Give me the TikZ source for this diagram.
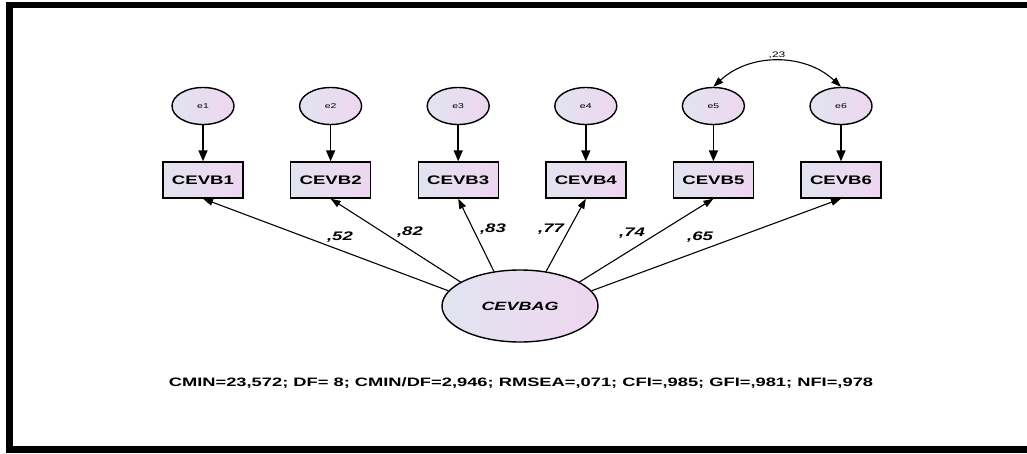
\documentclass[tikz,border=0pt]{standalone}
\usepackage{fontspec}
\newfontfamily\amosfont[FakeStretch=1.5]{Liberation Sans}
\usetikzlibrary{shapes.geometric,arrows.meta,positioning}
\definecolor{fillA}{HTML}{E2E4F0}
\definecolor{fillB}{HTML}{EED6F0}
\tikzset{
  errnode/.style={ellipse,draw,line width=1.4pt,minimum width=62pt,minimum height=37pt,inner sep=0pt,
    left color=fillA,right color=fillB,font=\amosfont\fontsize{7}{8}\selectfont},
  obsbox/.style={rectangle,draw,line width=1.4pt,minimum width=80pt,minimum height=36pt,inner sep=0pt,
    left color=fillA,right color=fillB,font=\amosfont\bfseries\fontsize{12.4}{14}\selectfont},
  latnode/.style={ellipse,draw,line width=1.4pt,minimum width=156pt,minimum height=72pt,inner sep=0pt,
    left color=fillA,right color=fillB,font=\amosfont\bfseries\itshape\fontsize{12}{14}\selectfont},
  coef/.style={font=\amosfont\bfseries\itshape\fontsize{12.4}{14}\selectfont},
  errarrow/.style={line width=1.6pt,-{Triangle[length=11pt,width=9pt]}},
  loadarrow/.style={line width=1.1pt,-{Triangle[length=10pt,width=7pt]}},
  covarrow/.style={line width=1.1pt,{Triangle[length=10pt,width=7pt]}-{Triangle[length=10pt,width=7pt]}}
}
\begin{document}
\begin{tikzpicture}[x=1pt,y=1pt]
\useasboundingbox (0,0) rectangle (1027,-453);

% frame
\draw[line width=6.5pt] (1027,-5) -| (9.5,-449.5) -- (1027,-449.5);

% errors and indicators
\foreach \i in {1,...,6}{
  \pgfmathsetmacro\colx{203+127.6*(\i-1)}
  \node[errnode] (e\i) at (\colx,-106) {e\i};
  \node[obsbox] (b\i) at (\colx,-180) {CEVB\i};
  \draw[errarrow] (e\i) -- (b\i);
}

% latent factor
\node[latnode] (bag) at (520,-306) {CEVBAG};

\draw[loadarrow] (bag.168) -- (b1.south);
\draw[loadarrow] (bag.158) -- (b2.south);
\draw[loadarrow] (bag.127) -- (b3.south);
\draw[loadarrow] (bag.53) -- (b4.south);
\draw[loadarrow] (bag.22) -- (b5.south);
\draw[loadarrow] (bag.12) -- (b6.south);

\node[coef] (l1) at (340,-237) {,52};
\node[coef] (l2) at (410,-232) {,82};
\node[coef] (l3) at (493,-229) {,83};
\node[coef] (l4) at (551,-229) {,77};
\node[coef] (l5) at (632,-233) {,74};
\node[coef] (l6) at (700,-237) {,65};

% covariance e5 e6
\draw[covarrow] (e5.north) to[out=43,in=137] (e6.north);
\node[font=\amosfont\fontsize{8}{9}\selectfont] (c56) at (777,-55) {,23};

% fit indices
\node[font=\amosfont\bfseries\fontsize{12.2}{14}\selectfont] (fit) at (521,-383)
  {CMIN=23,572; DF= 8; CMIN/DF=2,946; RMSEA=,071; CFI=,985; GFI=,981; NFI=,978};
\end{tikzpicture}
\end{document}
